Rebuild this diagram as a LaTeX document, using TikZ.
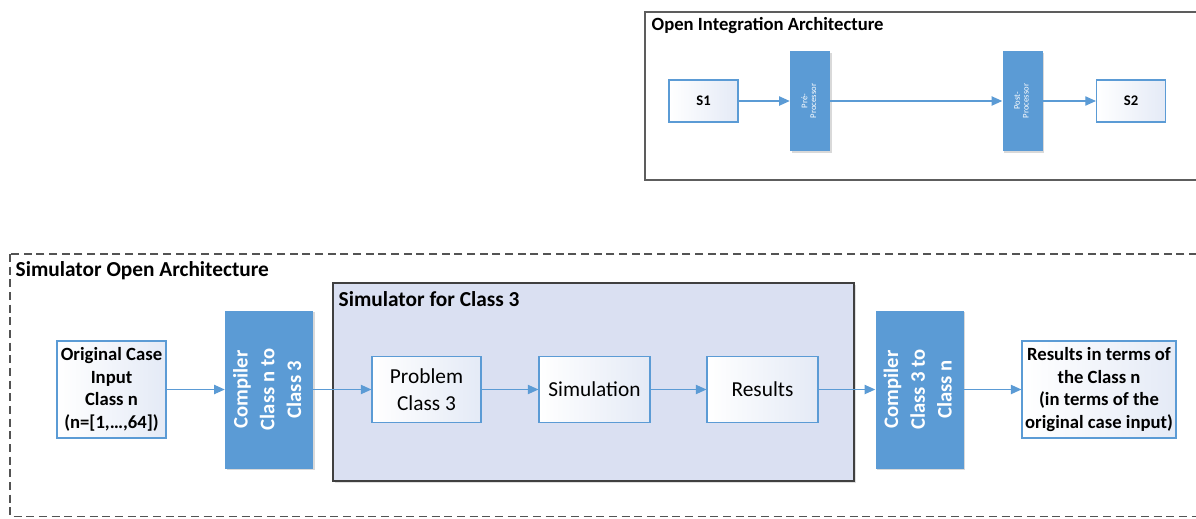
\documentclass[tikz,border=0pt]{standalone}
\usepackage{fontspec}
\setmainfont{Carlito}
\usetikzlibrary{arrows.meta,shadows}

\definecolor{boxblue}{HTML}{5B9BD5}
\definecolor{paleblue}{HTML}{E4EAF6}
\definecolor{simfill}{HTML}{DAE0F2}
\definecolor{framegray}{HTML}{404040}

\tikzset{
  flow/.style={draw=boxblue, line width=0.9pt, -{Triangle[length=8pt,width=7pt]}},
  lightbox/.style={draw=boxblue, line width=0.8pt, left color=white, right color=paleblue,
    align=center, inner sep=1pt},
  procbox/.style={fill=boxblue, text=white, inner sep=0pt,
    drop shadow={shadow xshift=1.2pt, shadow yshift=-1.2pt, opacity=0.3}},
  frametitle/.style={anchor=west, font=\bfseries\fontsize{16}{18}\selectfont},
}

\begin{document}
\begin{tikzpicture}[x=0.75pt, y=-0.75pt]
    \useasboundingbox (0,0) rectangle (1196,518);

    % Open integration frame (top)
    \draw[framegray!85, line width=1pt] (645,12) rectangle (1215,180);
    \node[frametitle, font=\bfseries\fontsize{14}{16}\selectfont] (oiatitle) at (647,26) {Open Integration Architecture};

    \node[lightbox, minimum width=51.75pt, minimum height=31.5pt, font=\bfseries\fontsize{11}{13}\selectfont] (s1) at (703.5,101) {S1};
    \node[procbox, minimum width=30pt, minimum height=75pt, font=\fontsize{6.5}{6.5}\selectfont] (pre) at (810,101)
        {\rotatebox{90}{\begin{tabular}{@{}c@{}}Pré-\\Processor\end{tabular}}};
    \node[procbox, minimum width=30pt, minimum height=75pt, font=\fontsize{6.5}{6.5}\selectfont] (post) at (1022.5,101)
        {\rotatebox{90}{\begin{tabular}{@{}c@{}}Post-\\Processor\end{tabular}}};
    \node[lightbox, minimum width=51.75pt, minimum height=31.5pt, font=\bfseries\fontsize{11}{13}\selectfont] (s2) at (1131,101) {S2};

    \draw[flow] (s1) -- (pre);
    \draw[flow] (pre) -- (post);
    \draw[flow] (post) -- (s2);

    % Simulator open architecture frame (bottom)
    \draw[framegray!90, line width=0.8pt, dash pattern=on 6pt off 3.5pt] (10,254) rectangle (1215,516.5);
    \node[frametitle] (soatitle) at (11,271) {Simulator Open Architecture};

    % Inner simulator box
    \node[draw=framegray, fill=simfill, line width=1pt, minimum width=390.75pt, minimum height=148.5pt,
          inner sep=0pt, drop shadow={shadow xshift=1.5pt, shadow yshift=-1.5pt, opacity=0.25}] (simbox) at (593.5,382) {};
    \node[frametitle] (simtitle) at (334,299) {Simulator for Class 3};

    % Blocks along the main line
    \node[lightbox, minimum width=81.75pt, minimum height=72.75pt, font=\bfseries\fontsize{14}{17}\selectfont] (orig) at (111.5,389.5)
        {Original Case\\Input\\Class n\\(n=[1,…,64])};
    \node[procbox, minimum width=66pt, minimum height=118.5pt, font=\bfseries\fontsize{15.5}{20}\selectfont] (comp1) at (269,389.5)
        {\rotatebox{90}{\begin{tabular}{@{}c@{}}Compiler\\Class n to\\Class 3\end{tabular}}};
    \node[lightbox, minimum width=81.75pt, minimum height=49.5pt, font=\fontsize{16}{20}\selectfont] (prob) at (426.5,389.5)
        {Problem\\Class 3};
    \node[lightbox, minimum width=83.25pt, minimum height=49.5pt, font=\fontsize{16}{20}\selectfont] (sim) at (594.5,389.5)
        {Simulation};
    \node[lightbox, minimum width=83.25pt, minimum height=49.5pt, font=\fontsize{16}{20}\selectfont] (res) at (762.5,389.5)
        {Results};
    \node[procbox, minimum width=66pt, minimum height=118.5pt, font=\bfseries\fontsize{15.5}{20}\selectfont] (comp2) at (919.5,389.5)
        {\rotatebox{90}{\begin{tabular}{@{}c@{}}Compiler\\Class 3 to\\Class n\end{tabular}}};
    \node[lightbox, minimum width=115.5pt, minimum height=72.75pt, font=\bfseries\fontsize{14}{17}\selectfont] (final) at (1099,389.5)
        {Results in terms of\\the Class n\\(in terms of the\\original case input)};

    \draw[flow] (orig) -- (comp1);
    \draw[flow] (comp1) -- (prob);
    \draw[flow] (prob) -- (sim);
    \draw[flow] (sim) -- (res);
    \draw[flow] (res) -- (comp2);
    \draw[flow] (comp2) -- (final);
\end{tikzpicture}
\end{document}
